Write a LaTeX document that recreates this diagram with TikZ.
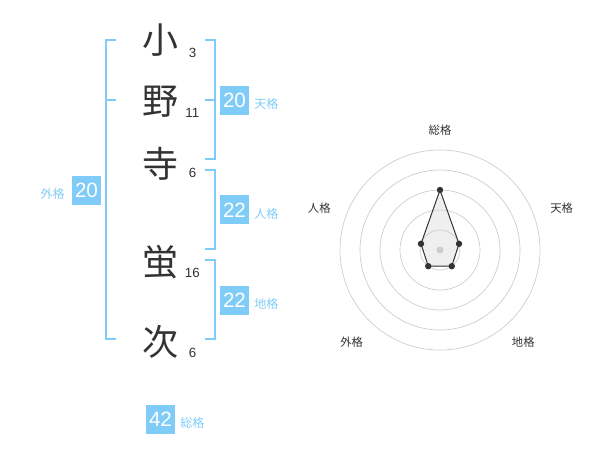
\documentclass[tikz,border=0pt]{standalone}
\usepackage{fontspec}
\setmainfont{Liberation Sans}
\newfontfamily\jp{Noto Sans CJK JP}
\definecolor{kakublue}{RGB}{128,204,248}
\definecolor{inkgray}{RGB}{51,51,51}
\definecolor{ringgray}{RGB}{204,204,204}
\tikzset{
	kanji/.style={font=\jp\fontsize{27}{27}\selectfont, text=inkgray, inner sep=0pt},
	strokes/.style={font=\fontsize{10}{10}\selectfont, text=inkgray, inner sep=0pt},
	kakubox/.style={fill=kakublue, text=white, minimum size=21.75pt, inner sep=0pt, font=\fontsize{15.5}{15.5}\selectfont},
	kakulabel/.style={font=\jp\fontsize{9}{9}\selectfont, text=kakublue, inner sep=0pt},
	bracket/.style={draw=kakublue, line width=1.5pt},
	radarlabel/.style={font=\jp\fontsize{8.5}{8.5}\selectfont, text=inkgray, inner sep=0pt},
	radardot/.style={fill=inkgray, draw=none},
}
\begin{document}
\begin{tikzpicture}[x=0.75pt,y=-0.75pt]
	\useasboundingbox (0,0) rectangle (600,470);
	% name
	\node[kanji] (sei1) at (160,40) {小};
	\node[kanji] (sei2) at (160,101.7) {野};
	\node[kanji] (sei3) at (160,163.3) {寺};
	\node[kanji] (mei1) at (160,261.7) {蛍};
	\node[kanji] (mei2) at (160,341.7) {次};
	\node[strokes] (k1) at (192.7,52.7) {3};
	\node[strokes] (k2) at (192.3,112.7) {11};
	\node[strokes] (k3) at (192.7,172.7) {6};
	\node[strokes] (k4) at (192.3,272.7) {16};
	\node[strokes] (k5) at (192.7,352.7) {6};
	% brackets
	\draw[bracket] (116,40) -- (105.7,40) -- (105.7,339.3) -- (116,339.3);
	\draw[bracket] (105.7,100) -- (116,100);
	\draw[bracket] (205,40) -| (214.7,159.3) -- (205,159.3);
	\draw[bracket] (205,100) -- (214.7,100);
	\draw[bracket] (205,170) -| (214.7,249.3) -- (205,249.3);
	\draw[bracket] (205,260) -| (214.7,339.3) -- (205,339.3);
	% kaku
	\node[kakubox] (gai) at (86.5,190.5) {20};
	\node[kakulabel,anchor=east] (gailab) at (65,193.5) {外格};
	\node[kakubox] (ten) at (234.5,100.5) {20};
	\node[kakulabel,anchor=west] (tenlab) at (254,104) {天格};
	\node[kakubox] (jin) at (234.5,210) {22};
	\node[kakulabel,anchor=west] (jinlab) at (254,213.5) {人格};
	\node[kakubox] (chi) at (234.5,300.5) {22};
	\node[kakulabel,anchor=west] (chilab) at (254,304) {地格};
	\node[kakubox] (sou) at (160.5,419) {42};
	\node[kakulabel,anchor=west] (soulab) at (180,422.5) {総格};
	% radar
	\begin{scope}[shift={(440,250)},y=0.75pt]
		\fill[inkgray!8] (90:60) -- (18:20) -- (-54:20) -- (-126:20) -- (162:20) -- cycle;
		\foreach \r in {20,40,...,100}
			\draw[ringgray,line width=0.5pt] (0,0) circle(\r);
		\fill[ringgray] (0,0) circle(3.5);
		\draw[inkgray,line width=0.75pt] (90:60) -- (18:20) -- (-54:20) -- (-126:20) -- (162:20) -- cycle;
		\foreach \a/\r in {90/60,18/20,-54/20,-126/20,162/20}
			\fill[radardot] (\a:\r) circle(3.2);
	\end{scope}
	\node[radarlabel] (rsou) at (440,130) {総格};
	\node[radarlabel] (rten) at (561.7,208.3) {天格};
	\node[radarlabel] (rchi) at (523.3,341.7) {地格};
	\node[radarlabel] (rgai) at (351.7,341.7) {外格};
	\node[radarlabel] (rjin) at (319.3,208.3) {人格};
\end{tikzpicture}
\end{document}
